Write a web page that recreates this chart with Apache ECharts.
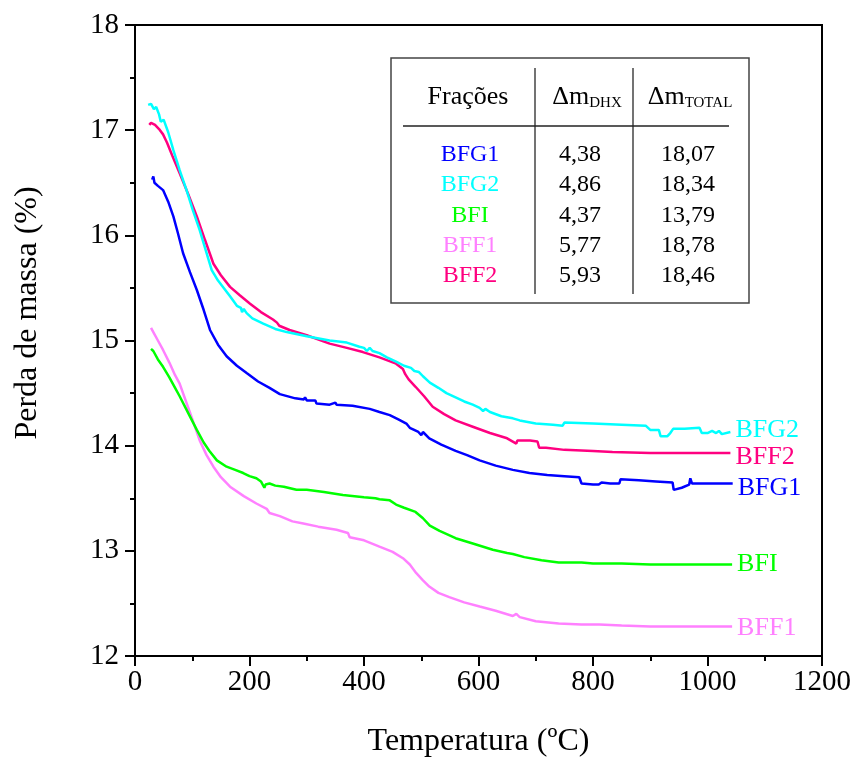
<!DOCTYPE html>
<html>
<head>
<meta charset="utf-8">
<script src="https://cdn.jsdelivr.net/npm/echarts@6/dist/echarts.min.js"></script>
<style>html,body{margin:0;padding:0;background:#fff}#c{width:858px;height:765px}</style>
</head>
<body>
<div id="c"></div>
<script>
const seriesNames = ['BFG1','BFG2','BFI','BFF1','BFF2'];
const xTicks = [0,200,400,600,800,1000,1200];
const yTicks = [12,13,14,15,16,17,18];
const dmDHX = ['4,38','4,86','4,37','5,77','5,93'];
const dmTOTAL = ['18,07','18,34','13,79','18,78','18,46'];

const BFG2 = [[23,17.24],[28,17.25],[33,17.20],[37,17.22],[42,17.15],[45,17.08],[50,17.10],[58,16.98],[67,16.81],[78,16.62],[90,16.43],[101,16.24],[113,16.05],[124,15.85],[134,15.67],[145,15.57],[155,15.50],[166,15.42],[178,15.33],[185,15.31],[187,15.27],[190,15.30],[195,15.26],[205,15.21],[224,15.16],[245,15.11],[265,15.08],[300,15.04],[340,15.00],[370,14.98],[392,14.94],[400,14.93],[405,14.90],[410,14.93],[415,14.90],[427,14.88],[440,14.84],[456,14.80],[470,14.76],[482,14.74],[488,14.71],[496,14.70],[503,14.66],[515,14.60],[530,14.55],[544,14.50],[560,14.46],[575,14.42],[590,14.39],[602,14.36],[608,14.33],[612,14.35],[620,14.32],[640,14.28],[660,14.26],[672,14.24],[700,14.21],[730,14.20],[747,14.19],[750,14.22],[800,14.21],[850,14.20],[892,14.19],[900,14.15],[915,14.15],[918,14.09],[930,14.09],[935,14.12],[940,14.16],[960,14.16],[986,14.17],[990,14.12],[1000,14.12],[1008,14.14],[1015,14.12],[1020,14.14],[1025,14.11],[1040,14.13]];
const BFF2 = [[25,17.05],[28,17.07],[35,17.05],[42,17.01],[49,16.96],[56,16.88],[65,16.76],[78,16.59],[93,16.39],[108,16.18],[122,15.96],[137,15.73],[150,15.62],[166,15.51],[183,15.43],[201,15.35],[220,15.27],[241,15.20],[248,15.17],[252,15.14],[270,15.10],[300,15.05],[340,14.97],[370,14.93],[398,14.89],[427,14.84],[456,14.78],[468,14.73],[472,14.68],[478,14.63],[490,14.56],[505,14.47],[520,14.37],[540,14.30],[560,14.24],[590,14.18],[620,14.12],[650,14.07],[666,14.02],[668,14.05],[690,14.05],[703,14.04],[706,13.98],[718,13.98],[750,13.96],[800,13.95],[834,13.94],[900,13.93],[950,13.93],[1000,13.93],[1040,13.93]];
const BFG1 = [[30,16.53],[32,16.56],[34,16.50],[40,16.47],[49,16.43],[58,16.32],[67,16.18],[75,16.02],[84,15.83],[96,15.65],[108,15.48],[120,15.29],[131,15.10],[145,14.96],[160,14.85],[178,14.76],[195,14.69],[215,14.61],[235,14.55],[253,14.49],[280,14.45],[295,14.44],[297,14.46],[300,14.43],[315,14.43],[317,14.40],[340,14.39],[350,14.41],[352,14.39],[380,14.38],[410,14.35],[427,14.32],[445,14.29],[460,14.25],[474,14.21],[480,14.17],[495,14.13],[500,14.10],[503,14.13],[514,14.07],[535,14.01],[560,13.95],[580,13.91],[602,13.86],[630,13.81],[660,13.77],[689,13.74],[720,13.72],[750,13.71],[776,13.70],[780,13.64],[800,13.63],[810,13.63],[815,13.65],[830,13.64],[846,13.64],[848,13.68],[880,13.67],[910,13.66],[939,13.65],[941,13.58],[955,13.60],[968,13.63],[970,13.69],[973,13.64],[1000,13.64],[1020,13.64],[1044,13.64]];
const BFI = [[28,14.92],[32,14.90],[40,14.82],[49,14.75],[60,14.65],[70,14.55],[78,14.47],[93,14.31],[108,14.15],[120,14.03],[130,13.95],[143,13.86],[160,13.80],[175,13.77],[189,13.74],[200,13.71],[212,13.69],[220,13.66],[226,13.60],[228,13.63],[235,13.64],[245,13.62],[260,13.61],[282,13.58],[300,13.58],[330,13.56],[363,13.53],[400,13.51],[420,13.50],[427,13.49],[445,13.48],[456,13.44],[470,13.41],[490,13.37],[503,13.31],[515,13.24],[532,13.19],[560,13.12],[590,13.07],[625,13.01],[650,12.98],[660,12.97],[680,12.94],[710,12.91],[740,12.89],[780,12.89],[800,12.88],[850,12.88],[900,12.87],[950,12.87],[1000,12.87],[1043,12.87]];
const BFF1 = [[28,15.12],[32,15.08],[40,15.00],[49,14.91],[60,14.79],[70,14.67],[78,14.59],[95,14.33],[113,14.05],[125,13.91],[137,13.80],[150,13.70],[166,13.61],[190,13.52],[212,13.45],[230,13.40],[235,13.36],[253,13.33],[275,13.28],[294,13.26],[320,13.23],[352,13.20],[372,13.17],[375,13.13],[400,13.10],[427,13.04],[450,12.99],[468,12.93],[480,12.87],[491,12.79],[503,12.72],[514,12.66],[530,12.60],[549,12.56],[575,12.51],[602,12.47],[630,12.43],[660,12.38],[666,12.40],[672,12.37],[700,12.33],[740,12.31],[780,12.30],[811,12.30],[850,12.29],[900,12.28],[950,12.28],[1000,12.28],[1043,12.28]];

const colors = {BFG1:'#0000FF', BFG2:'#00FFFF', BFI:'#00FF00', BFF1:'#FF80FF', BFF2:'#FF0080'};
const dataMap = {BFG1, BFG2, BFI, BFF1, BFF2};
const labelOffsetY = {BFG1:5, BFG2:-2, BFI:0, BFF1:2, BFF2:4};
const FONT = '"Liberation Serif", "Times New Roman", serif';

const chart = echarts.init(document.getElementById('c'));
const drawOrder = ['BFF1','BFI','BFG1','BFF2','BFG2'];
const series = drawOrder.map(n => ({
  name: n, type: 'line', data: dataMap[n], showSymbol: false, symbol: 'none',
  lineStyle: {color: colors[n], width: 2.5}, itemStyle: {color: colors[n]},
  endLabel: {show: true, formatter: '{a}', color: colors[n], fontFamily: FONT, fontSize: 26, distance: 5, offset: [0, labelOffsetY[n]]},
  animation: false
}));

const tbl = [];
tbl.push({type:'rect', shape:{x:391, y:58, width:358, height:245}, style:{fill:'#fff', stroke:'#444', lineWidth:1.5}, z:10});
tbl.push({type:'line', shape:{x1:535, y1:68, x2:535, y2:294}, style:{stroke:'#444', lineWidth:1.5}, z:11});
tbl.push({type:'line', shape:{x1:633, y1:68, x2:633, y2:294}, style:{stroke:'#444', lineWidth:1.5}, z:11});
tbl.push({type:'line', shape:{x1:403, y1:126, x2:729, y2:126}, style:{stroke:'#222', lineWidth:1.5}, z:11});
tbl.push({type:'text', x:468, y:97, z:12, style:{text:'Frações', fill:'#000', font:'26px '+FONT, align:'center', verticalAlign:'middle'}});
const subRich = {a:{fontSize:26, fontFamily:FONT, fill:'#000'}, b:{fontSize:15, fontFamily:FONT, fill:'#000', padding:[13,0,0,0]}};
tbl.push({type:'text', x:587, y:97, z:12, style:{text:'{a|Δm}{b|DHX}', rich:subRich, align:'center', verticalAlign:'middle'}});
tbl.push({type:'text', x:690, y:97, z:12, style:{text:'{a|Δm}{b|TOTAL}', rich:subRich, align:'center', verticalAlign:'middle'}});
seriesNames.forEach((n, i) => {
  const y = 155 + i * 30.2;
  tbl.push({type:'text', x:470, y:y, z:12, style:{text:n, fill:colors[n], font:'24px '+FONT, align:'center', verticalAlign:'middle'}});
  tbl.push({type:'text', x:580, y:y, z:12, style:{text:dmDHX[i], fill:'#000', font:'24px '+FONT, align:'center', verticalAlign:'middle'}});
  tbl.push({type:'text', x:688, y:y, z:12, style:{text:dmTOTAL[i], fill:'#000', font:'24px '+FONT, align:'center', verticalAlign:'middle'}});
});
tbl.push({type:'text', x:28, y:313, rotation:Math.PI/2, z:12, style:{text:'Perda de massa (%)', fill:'#000', font:'32px '+FONT, align:'center', verticalAlign:'middle'}});

chart.setOption({
  animation: false,
  backgroundColor: '#fff',
  grid: {left:135, right:36, top:25, bottom:109, show:true, borderColor:'#000', borderWidth:2, backgroundColor:'transparent'},
  xAxis: {
    type:'value', min:0, max:1200, interval:200,
    name:'Temperatura (ºC)', nameLocation:'middle', nameGap:70,
    nameTextStyle:{fontFamily:FONT, fontSize:32, color:'#000'},
    axisLine:{show:true, lineStyle:{color:'#000', width:2}},
    axisTick:{show:true, inside:false, length:10, lineStyle:{color:'#000', width:2}},
    minorTick:{show:true, splitNumber:2, length:5, lineStyle:{color:'#000', width:2}},
    splitLine:{show:false},
    axisLabel:{fontFamily:FONT, fontSize:29, color:'#000', margin:12, formatter: v => xTicks.includes(v) ? String(v) : ''}
  },
  yAxis: {
    type:'value', min:12, max:18, interval:1,
    axisLine:{show:true, lineStyle:{color:'#000', width:2}},
    axisTick:{show:true, inside:false, length:10, lineStyle:{color:'#000', width:2}},
    minorTick:{show:true, splitNumber:2, length:5, lineStyle:{color:'#000', width:2}},
    splitLine:{show:false},
    axisLabel:{fontFamily:FONT, fontSize:29, color:'#000', margin:16, formatter: v => yTicks.includes(v) ? String(v) : ''}
  },
  series: series,
  graphic: tbl
});
</script>
</body>
</html>
